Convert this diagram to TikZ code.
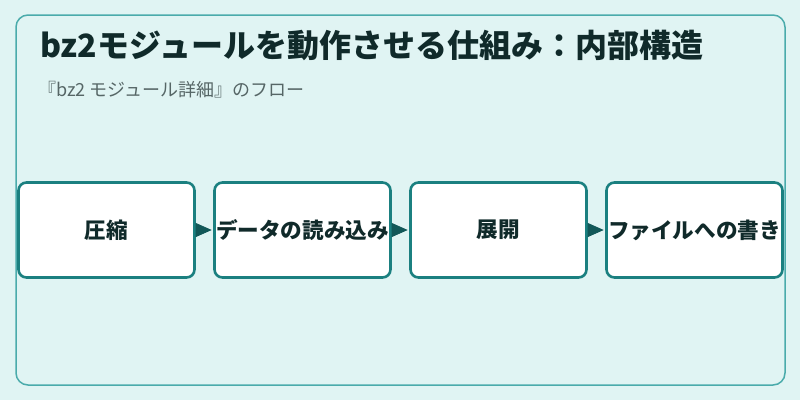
\documentclass[tikz,border=0pt]{standalone}
\usepackage{fontspec}
\setmainfont{Noto Sans CJK JP}
\usetikzlibrary{arrows.meta}
\definecolor{bgc}{HTML}{E0F4F3}
\definecolor{framec}{HTML}{4AABAB}
\definecolor{boxc}{HTML}{1B8080}
\definecolor{arrc}{HTML}{125858}
\definecolor{titlec}{HTML}{102A2A}
\definecolor{subc}{HTML}{566666}
\tikzset{
  stepbox/.style={draw=boxc, line width=2.6pt, fill=white, rounded corners=8pt,
    minimum width=176pt, minimum height=95pt, inner sep=0pt,
    font=\fontsize{21.6}{25}\selectfont\bfseries, text=titlec},
  flowarrow/.style={draw=arrc, line width=0.8pt, shorten >=1.5pt, -{Triangle[length=16pt,width=14pt]}, fill=arrc},
}
\begin{document}
\begin{tikzpicture}[x=1pt,y=-1pt]
\fill[bgc] (0,0) rectangle (800,400);
\useasboundingbox (0,0) rectangle (800,400);
\draw[framec, line width=1.5pt, rounded corners=12pt] (16,15) rectangle (785,385);
\node[anchor=base west, inner sep=0pt, text=titlec, font=\fontsize{32}{36}\selectfont\bfseries] (title) at (40,57) {bz2モジュールを動作させる仕組み：内部構造};
\node[anchor=base west, inner sep=0pt, text=subc, font=\fontsize{18}{21}\selectfont] (sub) at (38,96) {『bz2 モジュール詳細』のフロー};
\node[stepbox] (s1) at (106.5,230) {圧縮};
\node[stepbox] (s2) at (302.5,230) {データの読み込み};
\node[stepbox] (s3) at (498.5,230) {展開};
\node[stepbox] (s4) at (694.5,230) {ファイルへの書き};
\draw[flowarrow] (s1.east) -- (s2.west);
\draw[flowarrow] (s2.east) -- (s3.west);
\draw[flowarrow] (s3.east) -- (s4.west);
\end{tikzpicture}
\end{document}
